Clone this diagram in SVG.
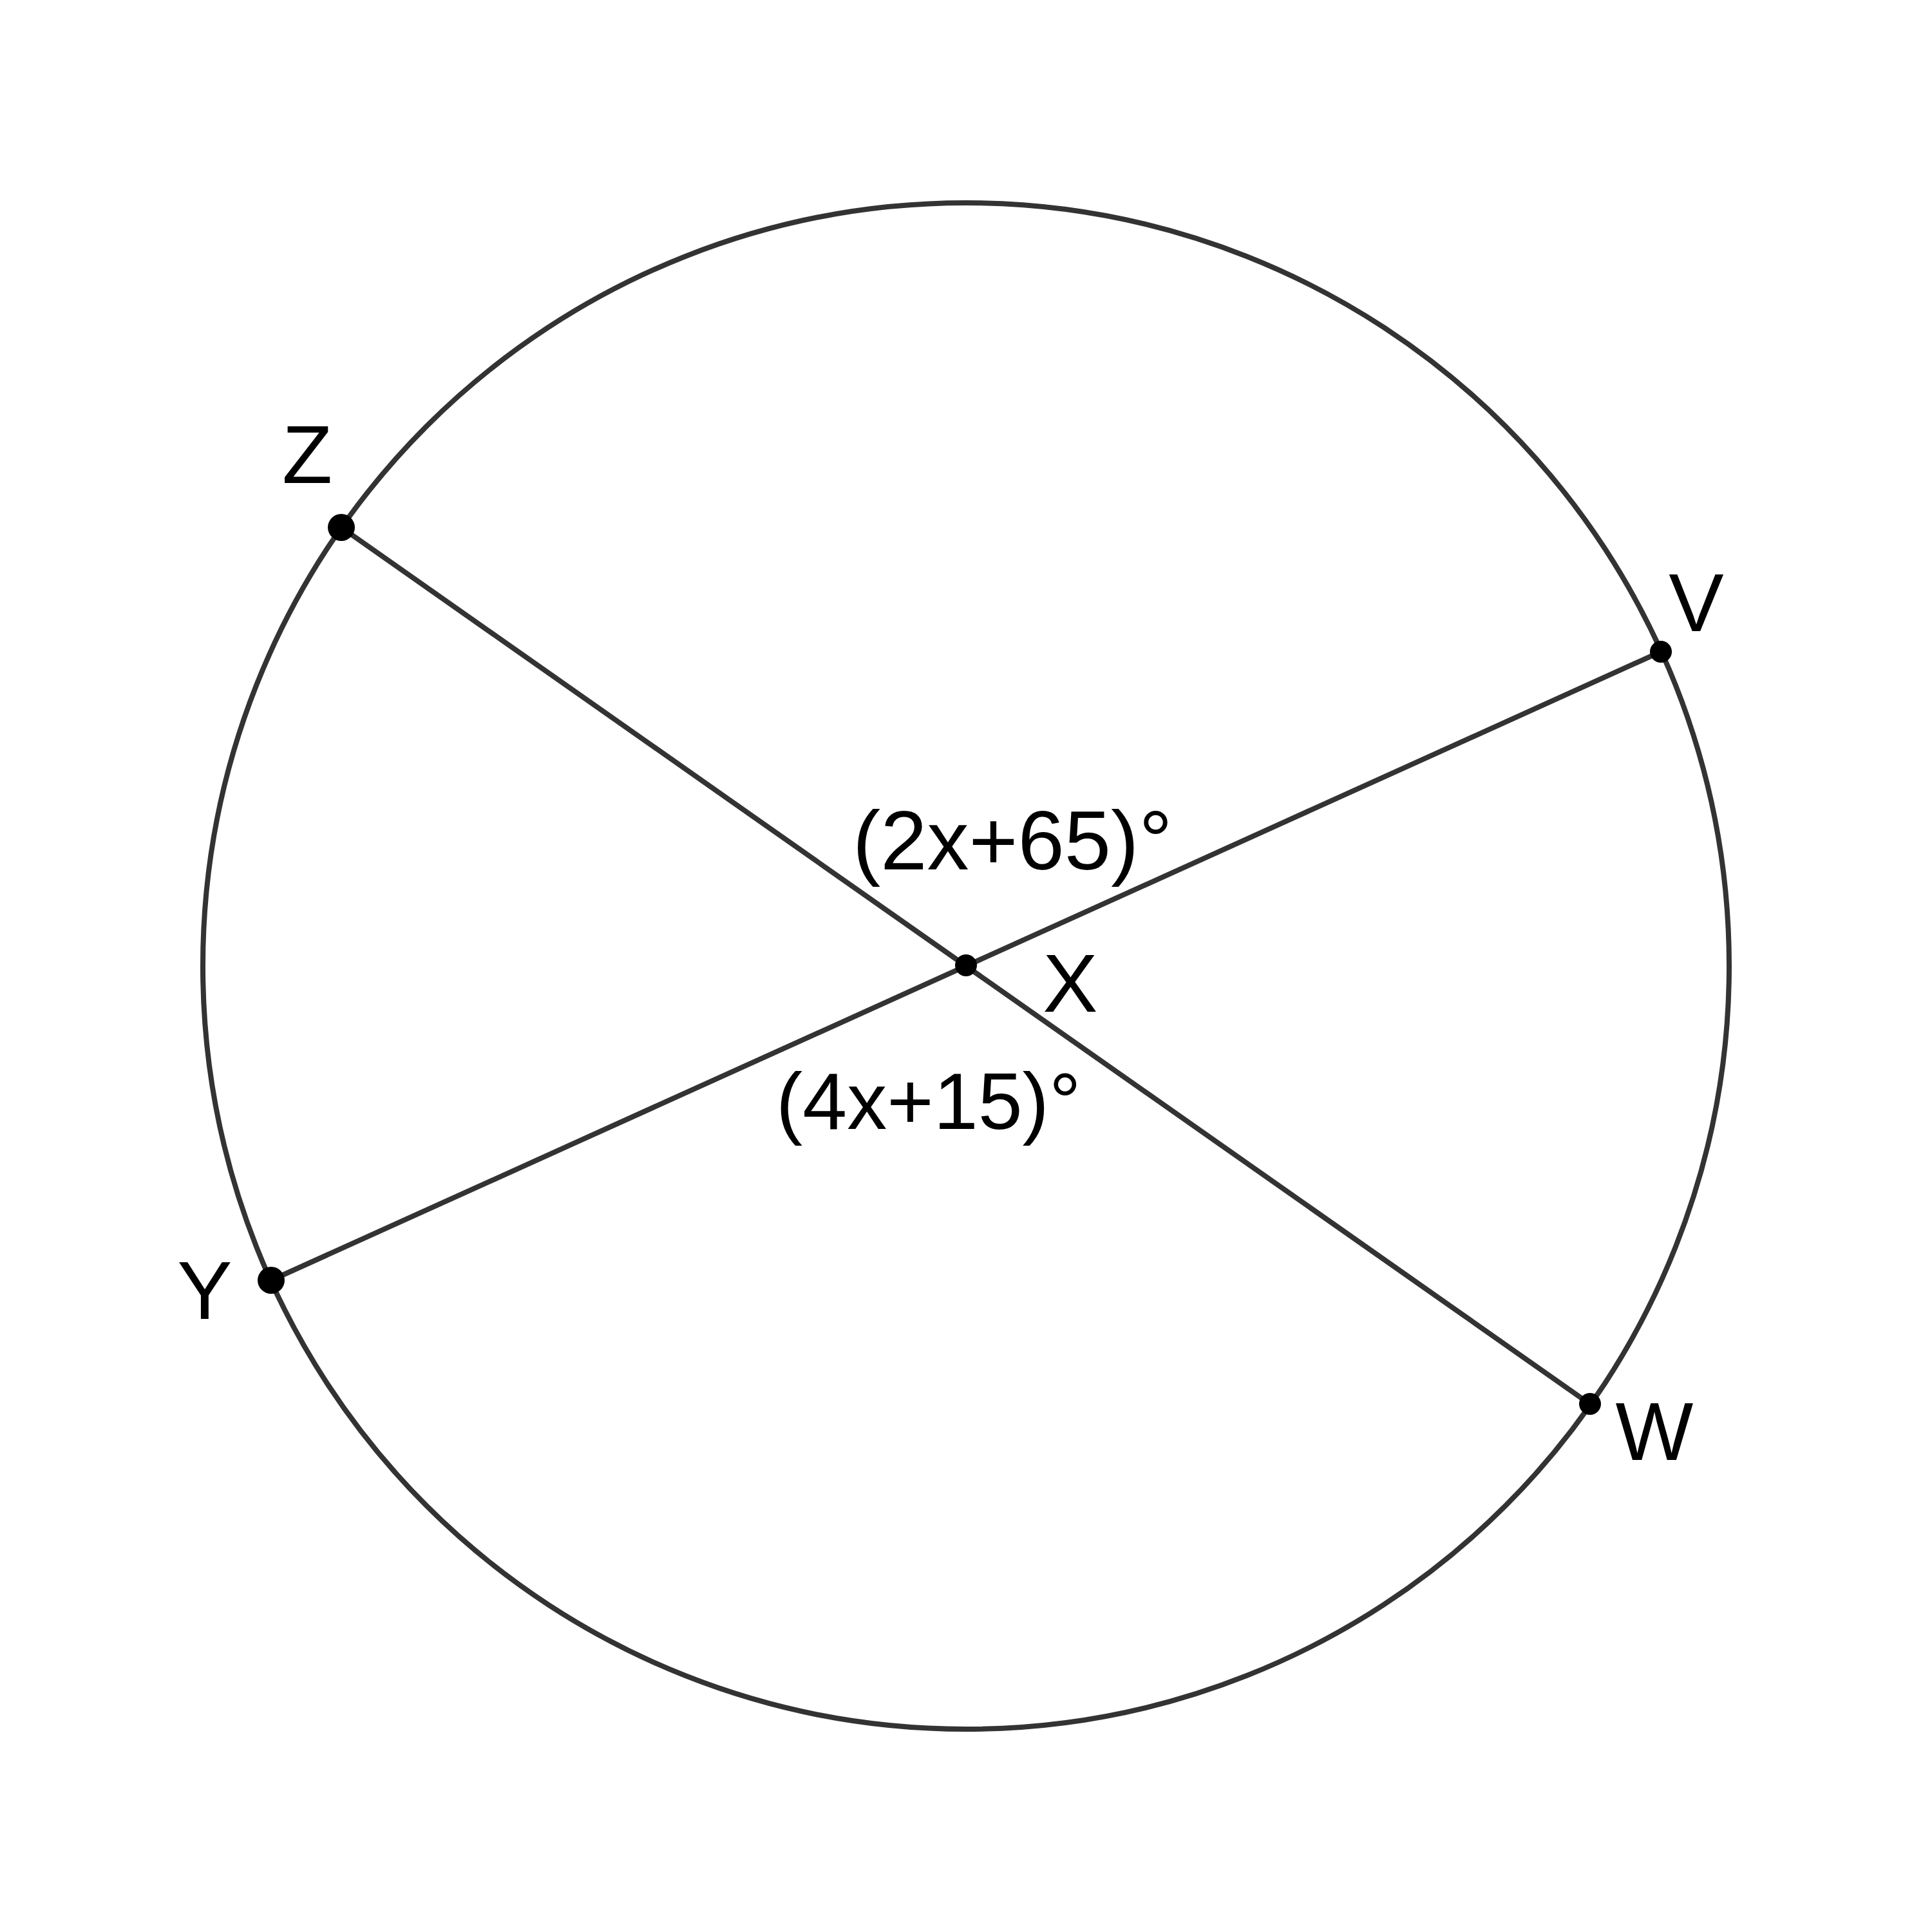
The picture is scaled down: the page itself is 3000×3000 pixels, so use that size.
<svg xmlns="http://www.w3.org/2000/svg" width="3000" height="3000" viewBox="0 0 3000 3000">
<style>
.ln{stroke:#333333;stroke-width:8;fill:none}
.pt{fill:#000000}
.lb{font-family:"Liberation Sans",Arial,sans-serif;fill:#000000}
</style>
<rect width="3000" height="3000" fill="#ffffff"/>
<g id="circle"><circle class="ln" cx="1500" cy="1500" r="1185"/></g>
<g id="connectors">
<line class="ln" x1="530" y1="819" x2="2470" y2="2181"/>
<line class="ln" x1="2579" y1="1012" x2="421" y2="1988"/>
</g>
<g id="Z"><circle class="pt" cx="530" cy="819" r="21"/><text class="lb" x="477" y="750" font-size="128" text-anchor="middle">Z</text></g>
<g id="V"><circle class="pt" cx="2579" cy="1012" r="17"/><text class="lb" x="2634" y="980" font-size="128" text-anchor="middle">V</text></g>
<g id="Y"><circle class="pt" cx="421" cy="1988" r="21"/><text class="lb" x="318" y="2048" font-size="128" text-anchor="middle">Y</text></g>
<g id="W"><circle class="pt" cx="2469" cy="2180" r="17"/><text class="lb" x="2569" y="2267" font-size="128" text-anchor="middle">W</text></g>
<g id="X"><circle class="pt" cx="1500" cy="1499" r="17"/><text class="lb" x="1662" y="1571" font-size="128" text-anchor="middle">X</text></g>
<g id="angle1"><text class="lb" x="1324" y="1350" font-size="130">(2x+65)°</text></g>
<g id="angle2"><text class="lb" x="1205" y="1753" font-size="124">(4x+15)°</text></g>
</svg>
